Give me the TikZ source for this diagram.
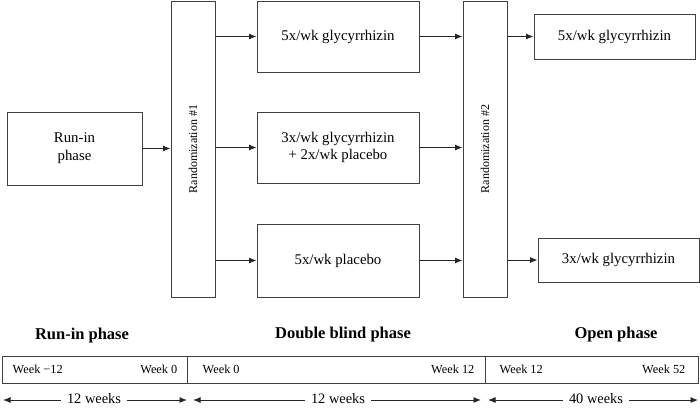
\documentclass[tikz,border=0pt]{standalone}
\usepackage{fontspec}
\setmainfont{Liberation Serif}
\usetikzlibrary{positioning}
\usetikzlibrary{arrows.meta,calc}
\tikzstyle{box}=[rectangle,draw=black!75,line width=1pt,align=center,inner sep=0pt,font=\fontsize{14.8}{17.8}\selectfont]
\tikzstyle{randbox}=[rectangle,draw=black!75,line width=1pt,minimum width=44pt,minimum height=296pt,inner sep=0pt]
\tikzstyle{randtext}=[rotate=90,font=\fontsize{12}{14}\selectfont]
\tikzstyle{segment}=[rectangle,draw=black!75,line width=1pt,minimum height=27pt,inner sep=0pt]
\tikzstyle{edge}=[draw,line width=0.9pt,black!85,-{Latex[length=7.5pt,width=6pt]}]
\tikzstyle{phase}=[font=\fontsize{16.5}{19}\selectfont\bfseries]
\tikzstyle{week}=[font=\fontsize{12.3}{14}\selectfont,inner sep=0pt]
\tikzstyle{span}=[font=\fontsize{14.4}{16}\selectfont,inner xsep=6pt,inner ysep=0pt]

\begin{document}
\begin{tikzpicture}[x=1pt,y=-1pt]
    \useasboundingbox (0,0) rectangle (700,408);

    \foreach \pos/\name/\bw/\bh/\label in {{(74.5,148.5)/runin/135/73/{Run-in\\phase}}, {(338,36.5)/boxa/162/71/{5x/wk glycyrrhizin}}, {(338,147.5)/boxb/162/71/{3x/wk glycyrrhizin\\+ 2x/wk placebo}}, {(338,260.5)/boxc/162/73/{5x/wk placebo}}}
        \node[box,minimum width=\bw pt,minimum height=\bh pt] (\name) at \pos {\label};

    \foreach \pos/\name/\bw/\bh/\label in {{(614.5,36.5)/outa/161/45/{5x/wk glycyrrhizin}}, {(618.5,260)/outb/161/44/{3x/wk glycyrrhizin}}}
        \node[box,minimum width=\bw pt,minimum height=\bh pt] (\name) at \pos {\label};

    \foreach \pos/\name/\label in {{(193,149)/rand1/1}, {(485,149)/rand2/2}}
    {
        \node[randbox] (\name) at \pos {};
        \node[randtext] (\name text) at (\name.center) {Randomization \#\label};
    }

    \foreach \source/\dest in {runin/rand1, boxa/rand2, boxb/rand2, boxc/rand2}
        \path[edge] (\source.east) -- (\source.east -| \dest.west);
    \foreach \source/\dest in {rand1/boxa, rand1/boxb, rand1/boxc, rand2/outa, rand2/outb}
        \path[edge] (\source.east |- \dest.west) -- (\dest.west);

    % phases and time line
    \foreach \pos/\name/\label in {{(82,336)/runinphase/Run-in phase}, {(343,335)/blindphase/Double blind phase}, {(616,335)/openphase/Open phase}}
        \node[phase] (\name) at \pos {\label};

    \foreach \pos/\name/\bw in {{(94.5,369.5)/seg1/185}, {(336,369.5)/seg2/298}, {(591.5,369.5)/seg3/213}}
        \node[segment,minimum width=\bw pt] (\name) at \pos {};

    \foreach \seg/\wkstart/\wkend/\ins/\oft in {seg1/{Week −12}/{Week 0}/11/10, seg2/{Week 0}/{Week 12}/16/11, seg3/{Week 12}/{Week 52}/15/13}
    {
        \node[week,anchor=west] (\seg a) at ([xshift=\ins pt]\seg.west) {\wkstart};
        \node[week,anchor=east] (\seg b) at ([xshift=-\oft pt]\seg.east) {\wkend};
    }

    \foreach \name/\px/\label/\from/\to in {w1/94/12 weeks/3/187, w2/338/12 weeks/193/481, w3/596/40 weeks/488/698}
    {
        \node[span] (\name) at (\px,398.5) {\label};
        \coordinate (\name-a) at (\from,400);
        \coordinate (\name-b) at (\to,400);
        \path[edge] (\name.west |- \name-a) -- (\name-a);
        \path[edge] (\name.east |- \name-b) -- (\name-b);
    }
\end{tikzpicture}
\end{document}
